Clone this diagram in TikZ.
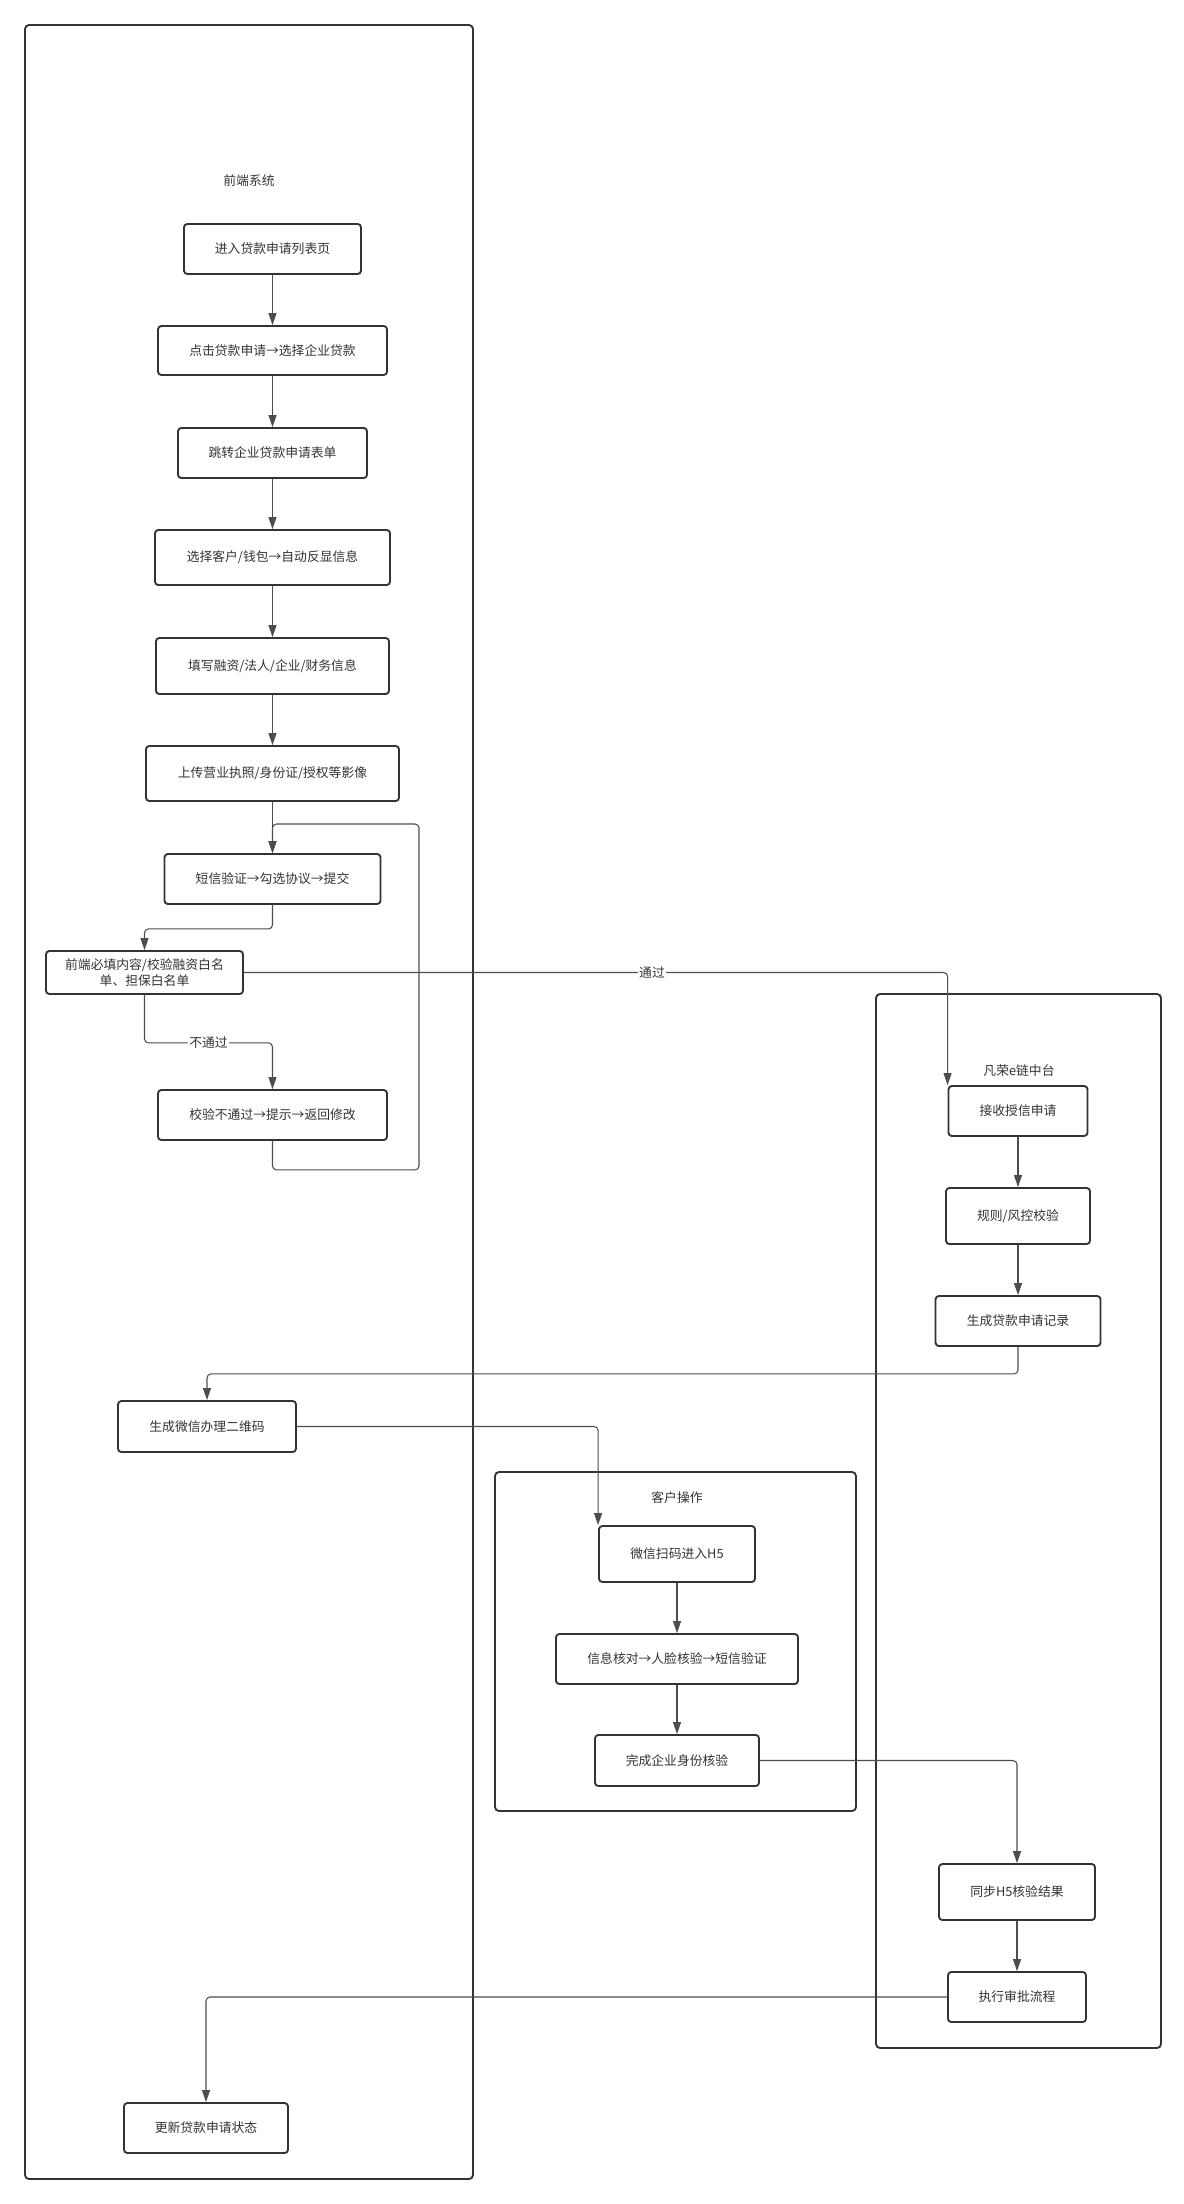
\documentclass[tikz,border=0pt]{standalone}
\usepackage{fontspec}
\setmainfont{Noto Sans CJK SC}
\usetikzlibrary{arrows.meta}
\definecolor{bordercol}{HTML}{333333}
\definecolor{linecol}{HTML}{4D4D4D}
\definecolor{textcol}{HTML}{333333}
\begin{document}
\begin{tikzpicture}[x=0.75pt,y=-0.75pt,line join=round,line cap=round,>={Triangle[length=9pt,width=6pt]},font=\fontsize{9.6}{12}\selectfont,
	box/.style={draw=bordercol,line width=1.4pt,rounded corners=2.5pt,fill=white,align=center,text=textcol,inner sep=0pt},
	lane/.style={draw=bordercol,line width=1.4pt,rounded corners=3pt},
	conn/.style={draw=linecol,line width=0.8pt,rounded corners=3pt,->},
	tag/.style={fill=white,inner sep=1pt,text=textcol}]
	% Thông số
	\def\u{0.75pt} % 1 px
	\useasboundingbox (0,0) rectangle (1183,2204);
	
	% Các làn
	\draw[lane] (25,25) rectangle (473,2179);
	\draw[lane] (876,994) rectangle (1161,2048);
	\draw[lane] (495,1472) rectangle (856,1811);
	\node[text=textcol] (t1) at (249,181) {前端系统};
	\node[text=textcol] (t2) at (1019,1071) {凡荣e链中台};
	\node[text=textcol] (t3) at (677,1498) {客户操作};
	
	% Làn trái: 前端系统
	\node[box,minimum width=177*\u,minimum height=50*\u] (b1) at (272.5,249) {进入贷款申请列表页};
	\node[box,minimum width=229*\u,minimum height=49*\u] (b2) at (272.5,350.5) {点击贷款申请→选择企业贷款};
	\node[box,minimum width=189*\u,minimum height=50*\u] (b3) at (272.5,453) {跳转企业贷款申请表单};
	\node[box,minimum width=235*\u,minimum height=55*\u] (b4) at (272.5,557.5) {选择客户/钱包→自动反显信息};
	\node[box,minimum width=233*\u,minimum height=56*\u] (b5) at (272.5,666) {填写融资/法人/企业/财务信息};
	\node[box,minimum width=253*\u,minimum height=55*\u] (b6) at (272.5,773.5) {上传营业执照/身份证/授权等影像};
	\node[box,minimum width=216*\u,minimum height=50*\u] (b7) at (272.5,879) {短信验证→勾选协议→提交};
	\node[box,minimum width=197*\u,minimum height=43*\u] (b8) at (144.5,972.5) {前端必填内容/校验融资白名\\单、担保白名单};
	\node[box,minimum width=229*\u,minimum height=50*\u] (b9) at (272.5,1115) {校验不通过→提示→返回修改};
	\node[box,minimum width=178*\u,minimum height=51*\u] (b10) at (207,1426.5) {生成微信办理二维码};
	\node[box,minimum width=164*\u,minimum height=50*\u] (b11) at (206,2128) {更新贷款申请状态};
	
	% Làn phải: 凡荣e链中台
	\node[box,minimum width=139*\u,minimum height=50*\u] (c1) at (1018,1111) {接收授信申请};
	\node[box,minimum width=144*\u,minimum height=56*\u] (c2) at (1018,1216) {规则/风控校验};
	\node[box,minimum width=165*\u,minimum height=50*\u] (c3) at (1018,1321) {生成贷款申请记录};
	\node[box,minimum width=156*\u,minimum height=56*\u] (c4) at (1017,1892) {同步H5核验结果};
	\node[box,minimum width=138*\u,minimum height=50*\u] (c5) at (1017,1997) {执行审批流程};
	
	% Làn giữa: 客户操作
	\node[box,minimum width=156*\u,minimum height=56*\u] (k1) at (677,1554) {微信扫码进入H5};
	\node[box,minimum width=242*\u,minimum height=50*\u] (k2) at (677,1659) {信息核对→人脸核验→短信验证};
	\node[box,minimum width=164*\u,minimum height=51*\u] (k3) at (677,1760.5) {完成企业身份核验};
	
	% Mũi tên
	\coordinate (loopR) at (419,824);
	\draw[conn] (b1) -- (b2);
	\draw[conn] (b2) -- (b3);
	\draw[conn] (b3) -- (b4);
	\draw[conn] (b4) -- (b5);
	\draw[conn] (b5) -- (b6);
	\draw[conn] (b6) -- (b7);
	\draw[conn] (b9.south) -- ++(0,29) -| (loopR) -| (b7.north);
	\draw[conn] (b7.south) -- ++(0,24) -| (b8.north);
	\draw[conn] (b8.south) -- ++(0,48) -| (b9.north) node[tag,pos=0.25]{不通过};
	\draw[conn] (b8.east) -| (c1.north west) node[tag,pos=0.29]{通过};
	\draw[conn] (c1) -- (c2);
	\draw[conn] (c2) -- (c3);
	\draw[conn] (c3.south) -- ++(0,27) -| (b10.north);
	\draw[conn] (b10.east) -| (k1.north west);
	\draw[conn] (k1) -- (k2);
	\draw[conn] (k2) -- (k3);
	\draw[conn] (k3.east) -| (c4.north);
	\draw[conn] (c4) -- (c5);
	\draw[conn] (c5.west) -| (b11.north);
\end{tikzpicture}
\end{document}
